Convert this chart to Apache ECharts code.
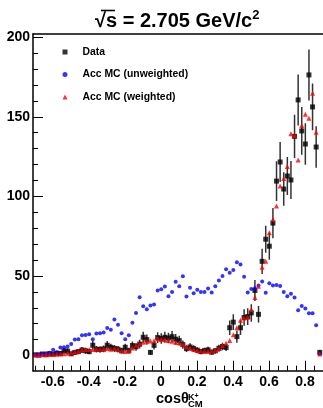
<!DOCTYPE html>
<html><head><meta charset="utf-8">
<script src="https://cdn.jsdelivr.net/npm/echarts@6/dist/echarts.min.js"></script>
<style>html,body{margin:0;padding:0;background:#fff}#c{width:323px;height:408px}</style>
</head><body><div id="c"></div>
<script>
const binCenters = [
-0.698,-0.678,-0.658,-0.638,-0.618,-0.598,-0.578,-0.558,-0.538,-0.518,
-0.498,-0.478,-0.458,-0.438,-0.418,-0.398,-0.378,-0.358,-0.338,-0.318,
-0.298,-0.278,-0.258,-0.238,-0.218,-0.198,-0.178,-0.158,-0.138,-0.118,
-0.098,-0.078,-0.058,-0.038,-0.018,0.002,0.022,0.042,0.062,0.082,
0.102,0.122,0.142,0.162,0.182,0.202,0.222,0.242,0.262,0.282,
0.302,0.322,0.342,0.362,0.382,0.402,0.422,0.442,0.462,0.482,
0.502,0.522,0.542,0.562,0.582,0.602,0.622,0.642,0.662,0.682,
0.702,0.722,0.742,0.762,0.782,0.802,0.822,0.842,0.862,0.882];
const dataValues = [
0.5,0.3,1.0,0.5,1.2,1.0,1.5,1.3,3.0,2.8,
1.1,2.0,2.5,3.5,3.0,2.5,6.5,4.0,3.8,4.2,
6.5,5.2,4.5,4.0,3.1,5.2,3.1,6.3,5.5,7.2,
11.5,10.0,2.0,6.4,11.3,10.7,11.5,11.0,11.9,10.3,
9.4,6.9,4.4,5.4,4.4,3.4,2.5,3.1,3.6,2.1,
3.0,4.6,5.7,5.1,17.5,21.0,11.9,17.5,23.9,24.5,
26.8,40.9,25.9,59.2,73.1,68.7,83.2,109.6,121.6,104.6,
112.8,110.3,137.7,160.6,141.1,132.9,176.3,156.2,131.0,2.0];
const dataErrors = [
0.7,0.5,1.0,0.7,1.1,1.0,1.2,1.2,1.8,1.7,
1.1,1.5,1.6,1.9,1.8,1.6,2.6,2.0,2.0,2.1,
2.6,2.3,2.2,2.0,1.8,2.3,1.8,2.5,2.4,2.8,
3.4,3.2,1.5,2.6,3.4,3.3,3.4,3.3,3.5,3.2,
3.1,2.6,2.1,2.4,2.1,1.9,1.6,1.8,1.9,1.5,
1.8,2.2,2.4,2.3,4.6,5.0,3.8,4.5,5.2,5.3,
5.5,6.6,5.2,7.9,8.5,8.5,9.5,12.5,12.6,10.5,
12.0,12.0,13.6,16.0,15.0,13.0,16.0,14.7,13.0,1.5];
const mcUnweighted = [
0.4,0.8,1.0,1.5,1.7,3.6,2.1,5.0,5.2,5.7,
7.3,10.1,10.3,12.8,13.0,13.4,10.3,13.8,14.0,14.5,
17.4,16.2,22.6,19.3,14.0,10.3,12.8,20.6,26.7,36.6,
31.0,29.1,31.4,32.1,40.9,41.7,43.4,37.3,40.0,46.3,
43.6,49.9,37.1,42.6,39.2,41.3,40.0,40.0,42.1,39.6,
43.5,47.2,50.0,54.3,52.1,53.7,58.7,57.2,49.5,39.6,
41.8,42.3,44.0,46.6,39.4,45.5,44.0,44.4,43.7,40.0,
37.2,38.8,36.5,28.5,31.2,29.6,26.6,26.6,19.1,1.0];
const mcWeighted = [
0.3,0.4,0.5,0.6,0.6,0.7,0.8,1.0,1.1,1.5,
1.7,2.3,2.7,3.6,3.8,3.8,3.8,3.9,4.0,4.0,
4.4,4.0,4.4,4.0,2.9,2.5,2.9,4.8,6.5,7.3,
8.3,9.0,9.1,9.3,10.5,10.1,10.0,9.5,9.0,8.2,
8.0,7.0,5.5,4.7,3.8,3.2,2.9,2.7,2.6,2.9,
3.3,4.4,6.1,7.8,9.5,13.1,17.5,22.2,23.6,24.0,
29.0,36.5,43.5,55.5,59.2,77.2,85.4,94.0,106.5,111.3,
118.7,139.4,138.2,122.8,144.5,151.6,149.1,164.8,140.3,1.0];
const seriesNames = ['Data', 'Acc MC (unweighted)', 'Acc MC (weighted)'];
const xMajorTicks = [-0.6,-0.4,-0.2,0,0.2,0.4,0.6,0.8];
const xMinorTicks = [-0.7,-0.65,-0.55,-0.5,-0.45,-0.35,-0.3,-0.25,-0.15,-0.1,-0.05,0.05,0.1,0.15,0.25,0.3,0.35,0.45,0.5,0.55,0.65,0.7,0.75,0.85,0.9];
const yMajorTicks = [0,50,100,150,200];
const yMinorTicks = [10,20,30,40,60,70,80,90,110,120,130,140,160,170,180,190];
const xRange = [-0.71, 0.9];
const yRange = [-9.5, 202];

const FONT = '"Liberation Sans", Arial, sans-serif';
const chart = echarts.init(document.getElementById('c'), null, {renderer: 'canvas'});
const pairs = arr => binCenters.map((x, i) => [x, arr[i]]);
const errTriples = binCenters.map((x, i) => [x, dataValues[i], dataErrors[i]]);

const baseX = {type: 'value', min: xRange[0], max: xRange[1], splitLine: {show: false}, axisPointer: {show: false}};
const baseY = {type: 'value', min: yRange[0], max: yRange[1], splitLine: {show: false}};

chart.setOption({
  animation: false,
  title: {
    text: '{a|√s = 2.705 GeV/c}{s|2}',
    left: 90, top: 4,
    textStyle: {rich: {
      a: {fontSize: 20, fontWeight: 'bold', fontFamily: FONT, color: '#000', lineHeight: 24},
      s: {fontSize: 13, fontWeight: 'bold', fontFamily: FONT, color: '#000', lineHeight: 14, verticalAlign: 'top'}
    }}
  },
  legend: {
    data: [{name: seriesNames[0], icon: 'rect'}, {name: seriesNames[1], icon: 'circle'}, {name: seriesNames[2], icon: 'triangle'}],
    orient: 'vertical', left: 57.5, top: 42, itemWidth: 5, itemHeight: 5, itemGap: 12.5,
    selectedMode: false,
    textStyle: {fontFamily: FONT, fontWeight: 'bold', fontSize: 10.4, color: '#000', padding: [0, 0, 0, 10]}
  },
  grid: {left: 33, top: 34, right: 0, bottom: 37.3, containLabel: false},
  xAxis: [
    Object.assign({}, baseX, {position: 'bottom',
      axisLine: {show: true, onZero: false, lineStyle: {color: '#000', width: 1.5}},
      axisTick: {show: true, inside: true, length: 10, customValues: xMajorTicks, lineStyle: {color: '#000', width: 1}},
      axisLabel: {show: true, customValues: xMajorTicks, fontFamily: FONT, fontWeight: 'bold', fontSize: 14, color: '#000', margin: 4}}),
    Object.assign({}, baseX, {position: 'bottom',
      axisLine: {show: false, onZero: false},
      axisTick: {show: true, inside: true, length: 5, customValues: xMinorTicks, lineStyle: {color: '#000', width: 1}},
      axisLabel: {show: false}}),
    Object.assign({}, baseX, {position: 'top',
      axisLine: {show: true, onZero: false, lineStyle: {color: '#000', width: 1.5}},
      axisTick: {show: false}, axisLabel: {show: false}})
  ],
  yAxis: [
    Object.assign({}, baseY, {position: 'left',
      axisLine: {show: true, onZero: false, lineStyle: {color: '#000', width: 1.5}},
      axisTick: {show: true, inside: true, length: 10, customValues: yMajorTicks, lineStyle: {color: '#000', width: 1}},
      axisLabel: {show: true, customValues: yMajorTicks, fontFamily: FONT, fontWeight: 'bold', fontSize: 14, color: '#000', margin: 3}}),
    Object.assign({}, baseY, {position: 'left',
      axisLine: {show: false, onZero: false},
      axisTick: {show: true, inside: true, length: 5, customValues: yMinorTicks, lineStyle: {color: '#000', width: 1}},
      axisLabel: {show: false}})
  ],
  graphic: [
    {type: 'line', shape: {x1: 101, y1: 10.5, x2: 115, y2: 10.5}, style: {stroke: '#000', lineWidth: 1.6}},
    {type: 'text', left: 156, top: 391, style: {text: 'cosθ', font: 'bold 14.5px ' + FONT, fill: '#000'}},
    {type: 'text', left: 188, top: 393, style: {text: '{k|K}{p|+}', rich: {k: {font: 'bold 9px ' + FONT, fill: '#000', verticalAlign: 'bottom'}, p: {font: 'bold 7px ' + FONT, fill: '#000', verticalAlign: 'top'}}}},
    {type: 'text', left: 188, top: 399.5, style: {text: 'CM', font: 'bold 9.5px ' + FONT, fill: '#000'}}
  ],
  series: [
    {
      type: 'custom', name: 'errors', xAxisIndex: 0, yAxisIndex: 0, clip: true, silent: true,
      data: errTriples, encode: {x: 0, y: 1},
      renderItem: function (params, api) {
        const x = api.value(0), y = api.value(1), e = api.value(2);
        const p1 = api.coord([x, y + e]);
        const p2 = api.coord([x, y - e]);
        return {type: 'line', shape: {x1: p1[0], y1: p1[1], x2: p2[0], y2: p2[1]},
          style: {stroke: '#333', lineWidth: 1.5}};
      },
      z: 1
    },
    {type: 'scatter', name: seriesNames[0], data: pairs(dataValues), symbol: 'rect', symbolSize: 5,
      itemStyle: {color: '#000'}, silent: true, z: 2},
    {type: 'scatter', name: seriesNames[1], data: pairs(mcUnweighted), symbol: 'circle', symbolSize: 4,
      itemStyle: {color: '#0000ff'}, silent: true, z: 3},
    {type: 'scatter', name: seriesNames[2], data: pairs(mcWeighted), symbol: 'triangle', symbolSize: 5,
      itemStyle: {color: '#ff0000'}, silent: true, z: 4}
  ]
});
</script>
</body></html>
